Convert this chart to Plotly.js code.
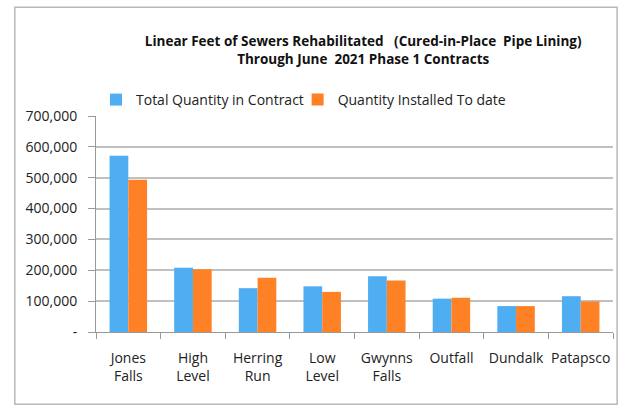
<!DOCTYPE html>
<html>
<head>
<meta charset="utf-8">
<script src="https://cdn.plot.ly/plotly-3.0.1.min.js"></script>
<style>
  body { margin: 0; background: #fff; }
  #chart { width: 623px; height: 407px; }
</style>
</head>
<body>
<div id="chart"></div>
<script>
const contracts = [
  "Jones<br>Falls", "High<br>Level", "Herring<br>Run", "Low<br>Level",
  "Gwynns<br>Falls", "Outfall", "Dundalk", "Patapsco"
];
const totalQuantity = [571000, 208000, 142000, 148000, 181000, 108000, 84000, 116000];
const installedToDate = [493000, 203000, 176000, 130000, 167000, 111000, 84000, 99000];
const yTickVals = [0, 100000, 200000, 300000, 400000, 500000, 600000, 700000];
const yTickText = ["-", "100,000", "200,000", "300,000", "400,000", "500,000", "600,000", "700,000"];

const traces = [
  {
    x: contracts,
    y: totalQuantity,
    name: "Total Quantity in Contract",
    type: "bar",
    marker: { color: "#4fadf2" },
    legend: "legend",
  },
  {
    x: contracts,
    y: installedToDate,
    name: "Quantity Installed To date",
    type: "bar",
    marker: { color: "#ff8125" },
    legend: "legend2",
  },
];

// each series gets its own legend box so the gap between them matches
const legendStyle = {
  orientation: "h",
  xanchor: "left",
  y: 1.0,
  yanchor: "bottom",
  font: { size: 14, color: "#222" },
  itemwidth: 30,
  bgcolor: "rgba(0,0,0,0)",
};

const layout = {
  width: 623,
  height: 407,
  margin: { l: 96, r: 10, t: 116, b: 75 },
  paper_bgcolor: "#fff",
  plot_bgcolor: "#fff",
  font: { family: "Open Sans, sans-serif", size: 14, color: "#222" },
  title: {
    text: "<b>Linear Feet of Sewers Rehabilitated   (Cured-in-Place  Pipe Lining)<br>Through June  2021 Phase 1 Contracts</b>",
    font: { family: "Open Sans, sans-serif", size: 13.5, color: "#111" },
    xref: "container",
    x: 0.583,
    xanchor: "center",
    yref: "container",
    y: 0.886,
    yanchor: "top",
  },
  barmode: "group",
  bargap: 0.42,
  bargroupgap: 0,
  showlegend: true,
  legend: { ...legendStyle, x: 0.0 },
  legend2: { ...legendStyle, x: 0.39 },
  xaxis: {
    type: "category",
    tickson: "boundaries",
    ticks: "outside",
    ticklen: 6,
    tickcolor: "#999",
    tickangle: 0,
    showline: true,
    linecolor: "#999",
    linewidth: 1,
    showgrid: false,
    ticklabelstandoff: 13,
    tickfont: { size: 14, color: "#222" },
  },
  yaxis: {
    range: [0, 700000],
    tickvals: yTickVals,
    ticktext: yTickText,
    ticks: "outside",
    ticklen: 7,
    tickcolor: "#999",
    showline: true,
    linecolor: "#999",
    linewidth: 1,
    gridcolor: "#c0c0c0",
    gridwidth: 2,
    zeroline: false,
    ticklabelstandoff: 8,
    tickfont: { size: 14, color: "#222" },
  },
  shapes: [
    {
      type: "rect",
      xref: "paper",
      yref: "paper",
      x0: -0.157,
      x1: 1.008,
      y0: -0.334,
      y1: 1.503,
      line: { color: "#b8b8b8", width: 1.5 },
      fillcolor: "rgba(0,0,0,0)",
    },
  ],
};

Plotly.newPlot("chart", traces, layout, { displayModeBar: false, staticPlot: true });
</script>
</body>
</html>
